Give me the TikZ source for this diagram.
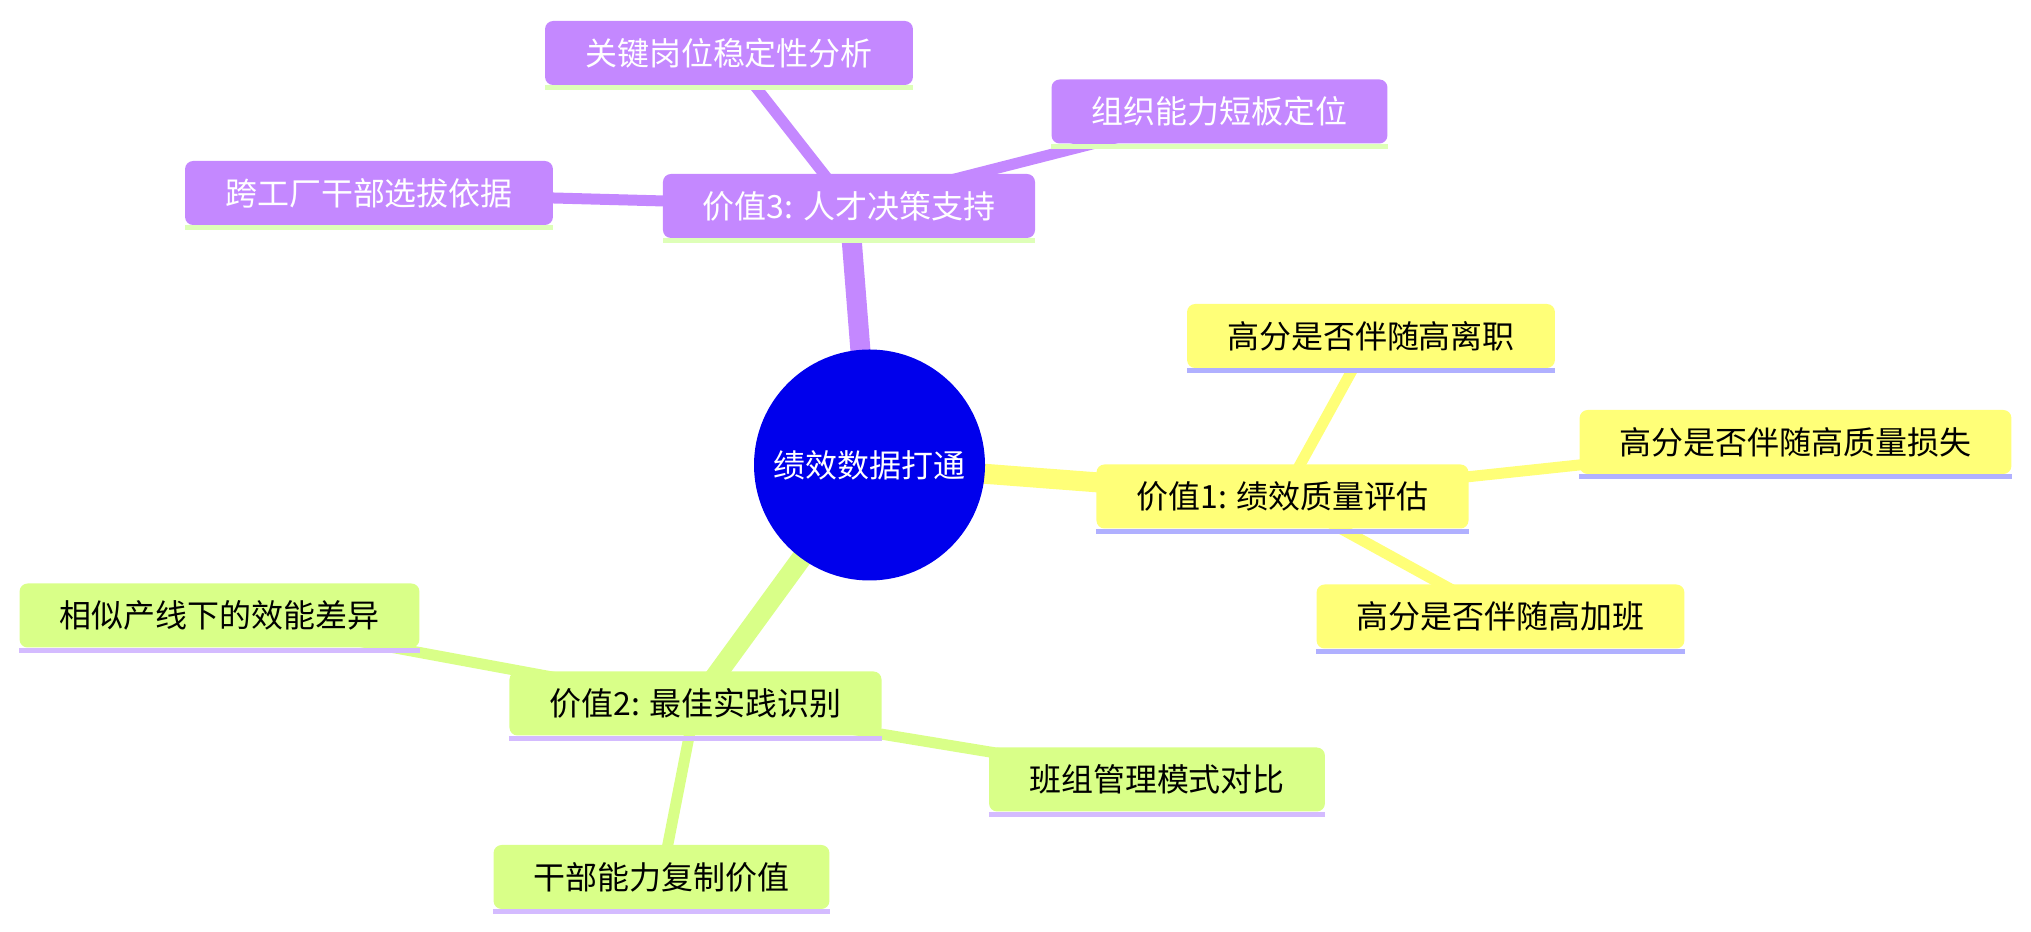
\documentclass[tikz,border=0pt]{standalone}
\usepackage{fontspec}
\setmainfont{Noto Sans CJK SC}
\usepackage{xcolor}
\definecolor{mmroot}{RGB}{0,0,236}
\definecolor{mmyel}{RGB}{255,255,120}
\definecolor{mmgrn}{RGB}{217,255,136}
\definecolor{mmpur}{RGB}{196,136,255}
\definecolor{mmyelline}{RGB}{176,176,255}
\definecolor{mmgrnline}{RGB}{212,187,255}
\definecolor{mmpurline}{RGB}{222,255,184}
\usetikzlibrary{backgrounds}

\begin{document}
\begin{tikzpicture}[
  font=\fontsize{18.2pt}{22pt}\selectfont,
  rootnode/.style={circle, fill=mmroot, text=white, minimum size=4.62cm, inner sep=0pt},
  mmbox/.style={rounded corners=0.16cm, minimum height=1.28cm, inner xsep=0.8cm},
  yelbox/.style={mmbox, fill=mmyel, text=black},
  grnbox/.style={mmbox, fill=mmgrn, text=black},
  purbox/.style={mmbox, fill=mmpur, text=white},
  rootedge/.style={line width=0.4cm},
  subedge/.style={line width=0.22cm}
]
  \useasboundingbox (0,0) rectangle (40.62,18.62);

  %% Root
  \node[rootnode] (root) at (17.39,9.32) {绩效数据打通};

  %% Branch: 价值1
  \node[yelbox] (v1) at (25.65,8.69) {价值1: 绩效质量评估};
  \node[yelbox] (y1) at (27.42,11.90) {高分是否伴随高离职};
  \node[yelbox] (y2) at (35.91,9.78) {高分是否伴随高质量损失};
  \node[yelbox] (y3) at (30.01,6.29) {高分是否伴随高加班};

  %% Branch: 价值2
  \node[grnbox] (v2) at (13.91,4.55) {价值2: 最佳实践识别};
  \node[grnbox] (g1) at (4.39,6.31) {相似产线下的效能差异};
  \node[grnbox] (g2) at (23.14,3.03) {班组管理模式对比};
  \node[grnbox] (g3) at (13.23,1.08) {干部能力复制价值};

  %% Branch: 价值3
  \node[purbox] (v3) at (16.98,14.50) {价值3: 人才决策支持};
  \node[purbox] (p1) at (14.58,17.56) {关键岗位稳定性分析};
  \node[purbox] (p2) at (24.39,16.39) {组织能力短板定位};
  \node[purbox] (p3) at (7.38,14.76) {跨工厂干部选拔依据};

  %% Underlines
  \fill[mmyelline] (v1.south west) rectangle ([yshift=-0.1cm]v1.south east);
  \fill[mmyelline] (y1.south west) rectangle ([yshift=-0.1cm]y1.south east);
  \fill[mmyelline] (y2.south west) rectangle ([yshift=-0.1cm]y2.south east);
  \fill[mmyelline] (y3.south west) rectangle ([yshift=-0.1cm]y3.south east);
  \fill[mmgrnline] (v2.south west) rectangle ([yshift=-0.1cm]v2.south east);
  \fill[mmgrnline] (g1.south west) rectangle ([yshift=-0.1cm]g1.south east);
  \fill[mmgrnline] (g2.south west) rectangle ([yshift=-0.1cm]g2.south east);
  \fill[mmgrnline] (g3.south west) rectangle ([yshift=-0.1cm]g3.south east);
  \fill[mmpurline] (v3.south west) rectangle ([yshift=-0.1cm]v3.south east);
  \fill[mmpurline] (p1.south west) rectangle ([yshift=-0.1cm]p1.south east);
  \fill[mmpurline] (p2.south west) rectangle ([yshift=-0.1cm]p2.south east);
  \fill[mmpurline] (p3.south west) rectangle ([yshift=-0.1cm]p3.south east);

  %% Edges
  \begin{scope}[on background layer]
    \draw[rootedge, mmyel] (root.center) -- (v1.center);
    \draw[rootedge, mmgrn] (root.center) -- (v2.center);
    \draw[rootedge, mmpur] (root.center) -- (v3.center);
    \draw[subedge, mmyel] (v1.center) -- (y1.center);
    \draw[subedge, mmyel] (v1.center) -- (y2.center);
    \draw[subedge, mmyel] (v1.center) -- (y3.center);
    \draw[subedge, mmgrn] (v2.center) -- (g1.center);
    \draw[subedge, mmgrn] (v2.center) -- (g2.center);
    \draw[subedge, mmgrn] (v2.center) -- (g3.center);
    \draw[subedge, mmpur] (v3.center) -- (p1.center);
    \draw[subedge, mmpur] (v3.center) -- (p2.center);
    \draw[subedge, mmpur] (v3.center) -- (p3.center);
  \end{scope}
\end{tikzpicture}
\end{document}
